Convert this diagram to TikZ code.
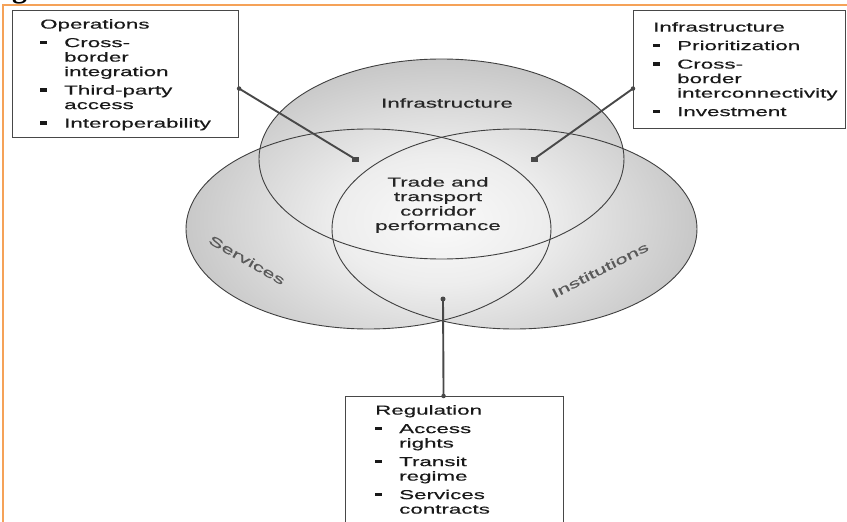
\documentclass[tikz,border=0pt]{standalone}
\usepackage{fontspec}
\setmainfont{Liberation Sans}
\newfontfamily\widesans[FakeStretch=1.72,FakeBold=0.35]{Liberation Sans}
\newfontfamily\figserif{Liberation Serif}
\usetikzlibrary{calc}

% radial fill shared by the three overlapping ellipses
\pgfdeclareradialshading{vennshade}{\pgfpoint{0bp}{0bp}}{%
  color(0bp)=(gray!4); color(9bp)=(gray!14); color(25bp)=(gray!50); color(50bp)=(gray!50)}

\definecolor{frameorange}{RGB}{245,162,88}
\definecolor{inkgray}{RGB}{72,72,72}

\newcommand\bul{\makebox[24pt][l]{\rule[3pt]{7pt}{3.5pt}}}
\newcommand\ind{\hspace*{24pt}}

\begin{document}
\begin{tikzpicture}[x=1pt,y=-1pt,
  boxfont/.style={font=\widesans\fontsize{13}{14.5}\selectfont},
  listbox/.style={draw=inkgray, line width=1.1pt, fill=white, inner sep=0pt, anchor=north west},
  listtext/.style={boxfont, align=left, inner sep=0pt, anchor=north west, text=black!90},
  vennline/.style={draw=black!75, line width=0.9pt},
  conn/.style={draw=inkgray, line width=1.9pt},
  sqmark/.style={fill=inkgray, draw=none, minimum width=7pt, minimum height=5pt, inner sep=0pt},
  dotmark/.style={fill=inkgray, draw=none, circle, minimum size=4.5pt, inner sep=0pt},
  vennlabel/.style={boxfont, text=black!65},
]
\useasboundingbox (0,0) rectangle (847,522);
\clip (0,0) rectangle (847,522);

% page frame and heading fragment
\node[font=\figserif\bfseries\fontsize{30}{30}\selectfont, anchor=base west, inner sep=0pt] (figg) at (12,-2) {g};
\draw[frameorange, line width=2pt] (3,523) -- (3,5) -- (848,5);

% three shaded ellipses
\foreach \cx/\cy in {441.5/159, 368.5/229, 514.5/229}{
  \begin{scope}
    \clip (\cx,\cy) ellipse [x radius=182.5pt, y radius=100pt];
    \shade[shading=vennshade] (150,40) rectangle (730,400);
  \end{scope}
}
\draw[vennline] (441.5,159) ellipse [x radius=182.5pt, y radius=100pt];
\draw[vennline] (368.5,229) ellipse [x radius=182.5pt, y radius=100pt];
\draw[vennline] (514.5,229) ellipse [x radius=182.5pt, y radius=100pt];

% ellipse labels
\node[boxfont, text=black!85] (infralbl) at (447,103) {Infrastructure};
\node[boxfont, text=black!85, align=center] (core) at (438,205)
  {Trade and\\transport\\corridor\\performance};
\node[vennlabel, rotate=-30] (servlbl) at (247,260) {Services};
\node[vennlabel, rotate=27] (instlbl) at (600,270) {Institutions};

% list boxes
\node[listbox, minimum width=226pt, minimum height=127pt] (ops) at (12,10) {};
\node[listtext] (opstext) at (40,19) {Operations\\[4pt]
  \bul Cross-\\ \ind border\\ \ind integration\\[4pt]
  \bul Third-party\\ \ind access\\[4pt]
  \bul Interoperability};

\node[listbox, minimum width=212pt, minimum height=118pt] (infbox) at (633,10) {};
\node[listtext] (inftext) at (653,22) {Infrastructure\\[4pt]
  \bul Prioritization\\[4pt]
  \bul Cross-\\ \ind border\\ \ind interconnectivity\\[4pt]
  \bul Investment};

\node[listbox, minimum width=218pt, minimum height=160pt] (regbox) at (345,396) {};
\node[listtext] (regtext) at (375,405) {Regulation\\[4pt]
  \bul Access\\ \ind rights\\[4pt]
  \bul Transit\\ \ind regime\\[4pt]
  \bul Services\\ \ind contracts};

% connector ends
\node[sqmark] (opsend) at (355,159) {};
\node[sqmark] (infend) at (534,159) {};
\node[dotmark, minimum size=5pt] (regend) at (443,299) {};
\node[dotmark] (opsdot) at ([yshift=-14.5pt]ops.east) {};
\node[dotmark] (infdot) at ([yshift=-19pt]infbox.west) {};
\node[dotmark] (regdot) at ([xshift=-11pt]regbox.north) {};

% connectors
\draw[conn] (opsdot.center) -- (opsend.center);
\draw[conn] (infdot.center) -- (infend.center);
\draw[conn] (regdot.center) -- (regend.center);
\end{tikzpicture}
\end{document}
